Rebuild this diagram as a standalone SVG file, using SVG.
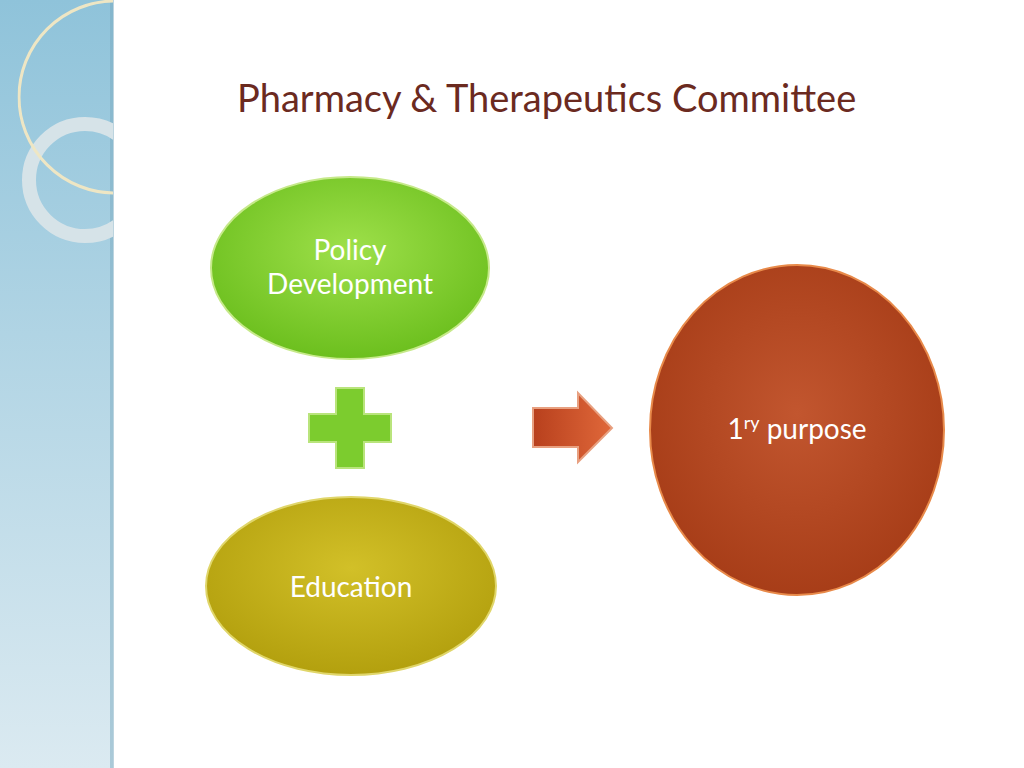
<svg xmlns="http://www.w3.org/2000/svg" width="1024" height="768" viewBox="0 0 1024 768">
<defs>
<linearGradient id="side" x1="0" y1="0" x2="0" y2="1"><stop offset="0" stop-color="#8fc3da"/><stop offset="1" stop-color="#dbeaf1"/></linearGradient>
<radialGradient id="g1" cx="0.5" cy="0.4" r="0.6"><stop offset="0" stop-color="#9ee04a"/><stop offset="1" stop-color="#6cbf1e"/></radialGradient>
<radialGradient id="g2" cx="0.5" cy="0.4" r="0.6"><stop offset="0" stop-color="#d2c028"/><stop offset="1" stop-color="#b3a00e"/></radialGradient>
<radialGradient id="g3" cx="0.5" cy="0.45" r="0.6"><stop offset="0" stop-color="#c2562f"/><stop offset="1" stop-color="#a53b16"/></radialGradient>
<linearGradient id="g4" x1="0" y1="0" x2="1" y2="0"><stop offset="0" stop-color="#b8401d"/><stop offset="1" stop-color="#e0683a"/></linearGradient>
<style>text{font-family:"Lato","Open Sans",sans-serif}.lbl{font-size:28px;fill:#fff;text-anchor:middle}</style>
</defs>
<rect width="1024" height="768" fill="#fff"/>
<rect width="113" height="768" fill="url(#side)"/>
<rect x="110" width="4" height="768" fill="#7aa9bf" opacity="0.5"/>
<g clip-path="inset(0 0 0 0)">
<svg x="0" y="0" width="113" height="768">
<circle cx="85" cy="180" r="56" fill="none" stroke="#d6e3e8" stroke-width="14"/>
<circle cx="115" cy="97" r="96" fill="none" stroke="#eee6c4" stroke-width="3"/>
</svg>
</g>
<text x="237" y="112" font-size="38" fill="#6b2a1f">Pharmacy &amp; Therapeutics Committee</text>
<g id="policy"><ellipse cx="350" cy="268" rx="139" ry="91" fill="url(#g1)" stroke="#c6e98a" stroke-width="2"/>
<text class="lbl" x="350" y="260">Policy</text><text class="lbl" x="350" y="294">Development</text></g>
<g id="plus"><path d="M336,388h28v26h27v28h-27v26h-28v-26h-27v-28h27z" fill="#7ccc2e" stroke="#b9e47c" stroke-width="2"/></g>
<g id="education"><ellipse cx="351" cy="586" rx="145" ry="89" fill="url(#g2)" stroke="#e0d66a" stroke-width="2"/>
<text class="lbl" x="351" y="597">Education</text></g>
<g id="connectors"><path d="M533,408h45v-15l34,35l-34,34v-15h-45z" fill="url(#g4)" stroke="#e8a080" stroke-width="2"/></g>
<g id="purpose"><ellipse cx="797" cy="430" rx="147" ry="165" fill="url(#g3)" stroke="#e88a4a" stroke-width="2"/>
<text x="797" y="439" font-size="28" fill="#fff" text-anchor="middle">1<tspan font-size="18" dy="-10">ry</tspan><tspan dy="10"> purpose</tspan></text></g>
</svg>
